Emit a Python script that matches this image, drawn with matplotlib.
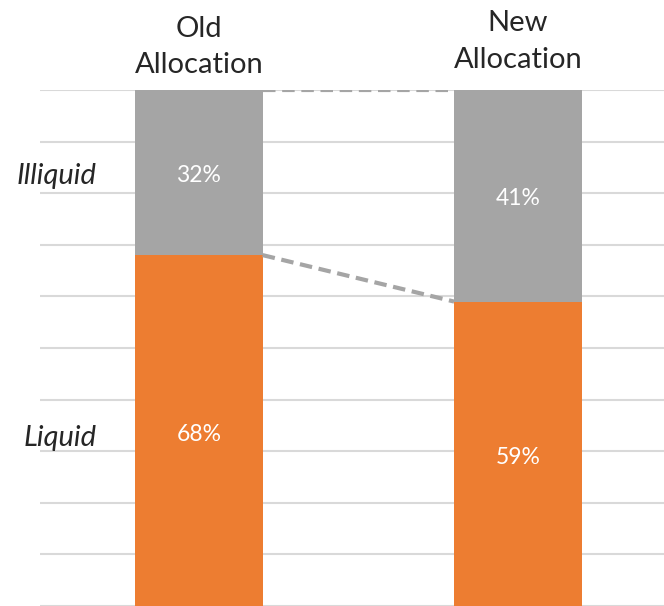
import matplotlib
matplotlib.use("Agg")
import matplotlib.pyplot as plt

plt.rcParams["font.family"] = ["Lato", "DejaVu Sans"]

# data
allocations = ["Old\nAllocation", "New\nAllocation"]
liquid = [68, 59]
illiquid = [32, 41]
segments = ["Liquid", "Illiquid"]

ORANGE = "#ED7D31"; GREY = "#A5A5A5"; GRID = "#D9D9D9"; INK = "#262626"

fig = plt.figure(figsize=(6.64, 6.06), dpi=100)
ax = fig.add_axes([40/664, 0, 624/664, 516/606])

x = list(range(len(allocations)))
w = 0.40
ax.bar(x, liquid, width=w, color=ORANGE, zorder=2)
ax.bar(x, illiquid, width=w, bottom=liquid, color=GREY, zorder=2)

# dashed connectors between bar segment tops
ax.plot([x[0] + w/2, x[1] - w/2], [liquid[0], liquid[1]], color=GREY,
        lw=3, ls=(0, (3, 1.6)), zorder=3)
tot = [a + b for a, b in zip(liquid, illiquid)]
ax.plot([x[0] + w/2, x[1] - w/2], [tot[0], tot[1]], color=GREY,
        lw=3, ls=(0, (3, 1.6)), zorder=3)

for i in x:
    ax.text(i, liquid[i] / 2 - 0.7, f"{liquid[i]}%", ha="center", va="center",
            color="white", fontsize=16.5)
    ax.text(i, liquid[i] + illiquid[i] / 2 - 0.6, f"{illiquid[i]}%", ha="center",
            va="center", color="white", fontsize=16.5)

# segment names beside the old bar
ax.text(-0.32, liquid[0] / 2 - 1.4, segments[0], ha="right", va="center",
        style="italic", fontsize=21, color=INK, clip_on=False)
ax.text(-0.32, liquid[0] + illiquid[0] / 2 - 0.6, segments[1], ha="right",
        va="center", style="italic", fontsize=21, color=INK, clip_on=False)

# column headers
for i, lab in enumerate(allocations):
    ax.text(i, 100 + (2.3 if i == 0 else 3.3), lab, ha="center", va="bottom",
            fontsize=21, color=INK, linespacing=1.5, clip_on=False)

ax.set_xlim(-0.498, 1.458)
ax.set_ylim(0, 100)
ax.set_yticks(range(0, 101, 10))
ax.yaxis.grid(True, color=GRID, lw=1.5, zorder=0)
ax.set_xticks([])
ax.tick_params(left=False, labelleft=False)
for sp in ax.spines.values():
    sp.set_visible(False)

fig.savefig("out.png", dpi=100, facecolor="white")
